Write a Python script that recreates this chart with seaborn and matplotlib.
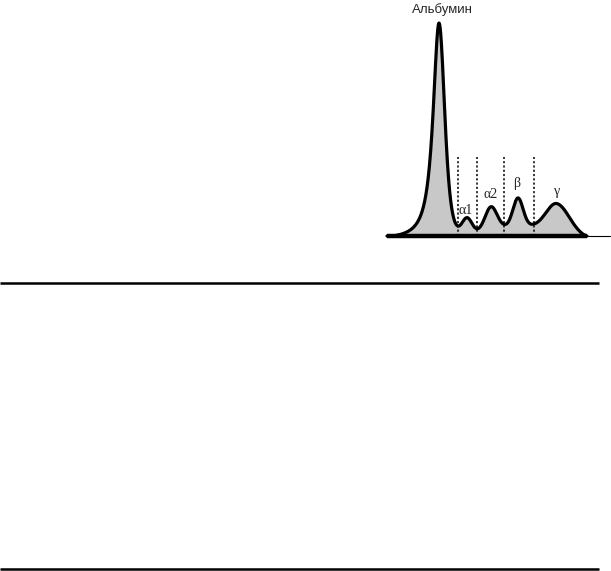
import numpy as np
import matplotlib
matplotlib.use("Agg")
import matplotlib.pyplot as plt
import seaborn as sns

# ── Data (x / height in px of the curve panel) ──────────────────────────────
# each fraction is a Pearson-VII style peak; large SHAPE ~ gaussian, 1 ~ lorentzian
FRACTIONS   = ["albumin", "alpha1", "alpha2", "beta", "gamma", "background"]
CENTERS     = [59, 87, 111, 138, 177, 140]
HEIGHTS     = [215, 16, 23, 28, 31, 13]
SIGMA_LEFT  = [5.1, 5.0, 6.0, 5.0, 11.0, 35.0]
SIGMA_RIGHT = [5.3, 5.0, 6.0, 5.0, 13.0, 25.0]
SHAPE_LEFT  = [1.2, 50, 50, 50, 50, 50]
SHAPE_RIGHT = [3.0, 50, 50, 50, 50, 50]
BASE_OFFSET = 3
BOUNDARIES  = [78, 97, 124, 154]
BOUNDARY_TOP = 79
PEAK_LABELS = ["α1", "α2", "β", "γ"]
TITLE_LABEL = "Альбумин"

# ── Style ────────────────────────────────────────────────────────────────────
sns.set_style("white")
plt.rcParams["font.family"] = ["Liberation Sans", "DejaVu Sans"]
FILL = "#c8c8c8"
INK  = "black"

W, H = 611, 571
fig = plt.figure(figsize=(W / 100, H / 100), dpi=100)

# full-figure axes for the two rule lines
bg = fig.add_axes([0, 0, 1, 1])
bg.set_xlim(0, W)
bg.set_ylim(H, 0)
bg.axis("off")
for yy in (283, 569):
    bg.plot([0, 599], [yy, yy], color=INK, lw=1.8, solid_capstyle="butt")

# ── Curve panel ─────────────────────────────────────────────────────────────
ax = fig.add_axes([380 / W, (H - 250) / H, 231 / W, 250 / H])
ax.set_xlim(0, 231)
ax.set_ylim(-14, 236)
ax.axis("off")

x = np.linspace(7, 207, 1000)
y = np.zeros_like(x)
for c, h, sl, sr, ml, mr in zip(CENTERS, HEIGHTS, SIGMA_LEFT, SIGMA_RIGHT,
                                SHAPE_LEFT, SHAPE_RIGHT):
    s = np.where(x < c, sl, sr)
    m = np.where(x < c, ml, mr)
    y += h * (1 + (x - c) ** 2 / (2 * m * s ** 2)) ** (-m)
y = np.clip(y - BASE_OFFSET, 0, None)

ax.fill_between(x, 0, y, color=FILL, lw=0)
sns.lineplot(x=x, y=y, color=INK, lw=2.3, ax=ax, sort=False)

# baseline: thick under the curve, thin beyond
ax.plot([7, 207], [0, 0], color=INK, lw=3.2, solid_capstyle="butt")
ax.plot([207, 230], [0, 0], color=INK, lw=0.8)

ax.vlines(BOUNDARIES, 0, BOUNDARY_TOP, colors=INK, lw=1.1, linestyles=(0, (1.4, 1.4)))

ax.text(62, 226, TITLE_LABEL, ha="center", va="center", fontsize=9.5)
label_pos = [(86, 26), (111, 41), (137, 53), (177, 44)]
for lab, (lx, ly) in zip(PEAK_LABELS, label_pos):
    ax.text(lx, ly, lab, ha="center", va="center", fontsize=10,
            family=["Liberation Serif", "DejaVu Serif"])

fig.savefig("out.png", dpi=100)
